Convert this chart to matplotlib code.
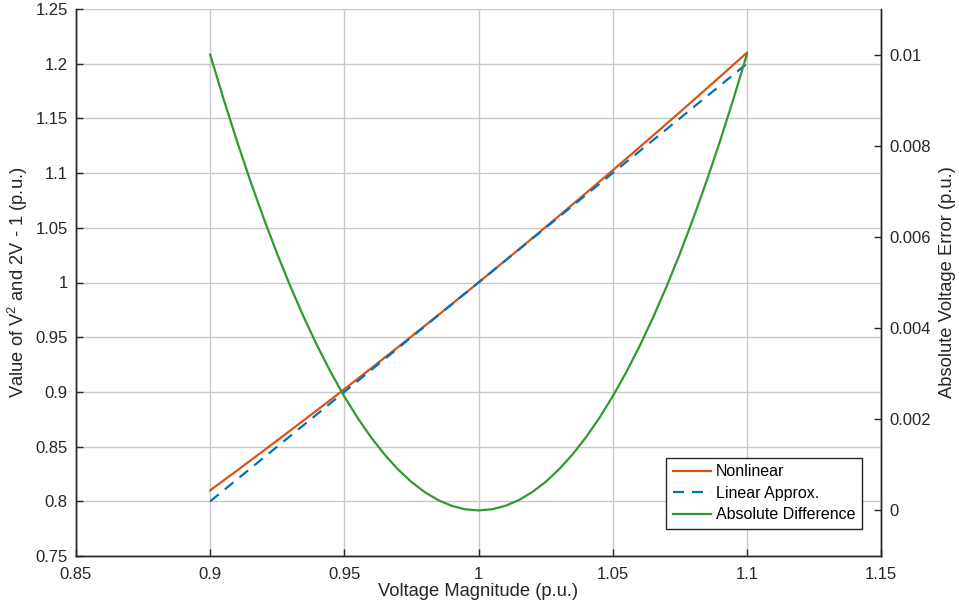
import numpy as np
import matplotlib.pyplot as plt

plt.rcParams['font.family'] = ['Liberation Sans', 'DejaVu Sans']
plt.rcParams['mathtext.fontset'] = 'custom'
plt.rcParams['mathtext.rm'] = 'Liberation Sans'
plt.rcParams['mathtext.it'] = 'Liberation Sans'

# ── data ──
voltage = [0.90, 0.91, 0.92, 0.93, 0.94, 0.95, 0.96, 0.97, 0.98, 0.99, 1.00,
           1.01, 1.02, 1.03, 1.04, 1.05, 1.06, 1.07, 1.08, 1.09, 1.10]
nonlinear = [0.8100, 0.8281, 0.8464, 0.8649, 0.8836, 0.9025, 0.9216, 0.9409,
             0.9604, 0.9801, 1.0000, 1.0201, 1.0404, 1.0609, 1.0816, 1.1025,
             1.1236, 1.1449, 1.1664, 1.1881, 1.2100]
linear = [0.80, 0.82, 0.84, 0.86, 0.88, 0.90, 0.92, 0.94, 0.96, 0.98, 1.00,
          1.02, 1.04, 1.06, 1.08, 1.10, 1.12, 1.14, 1.16, 1.18, 1.20]

# green curve needs a finer grid to look smooth
voltage_fine = [0.900, 0.905, 0.910, 0.915, 0.920, 0.925, 0.930, 0.935, 0.940,
                0.945, 0.950, 0.955, 0.960, 0.965, 0.970, 0.975, 0.980, 0.985,
                0.990, 0.995, 1.000, 1.005, 1.010, 1.015, 1.020, 1.025, 1.030,
                1.035, 1.040, 1.045, 1.050, 1.055, 1.060, 1.065, 1.070, 1.075,
                1.080, 1.085, 1.090, 1.095, 1.100]
abs_diff = [0.010000, 0.009025, 0.008100, 0.007225, 0.006400, 0.005625,
            0.004900, 0.004225, 0.003600, 0.003025, 0.002500, 0.002025,
            0.001600, 0.001225, 0.000900, 0.000625, 0.000400, 0.000225,
            0.000100, 0.000025, 0.000000, 0.000025, 0.000100, 0.000225,
            0.000400, 0.000625, 0.000900, 0.001225, 0.001600, 0.002025,
            0.002500, 0.003025, 0.003600, 0.004225, 0.004900, 0.005625,
            0.006400, 0.007225, 0.008100, 0.009025, 0.010000]

x_ticks = [0.85, 0.9, 0.95, 1, 1.05, 1.1, 1.15]
x_labels = ['0.85', '0.9', '0.95', '1', '1.05', '1.1', '1.15']
y_ticks = [0.75, 0.8, 0.85, 0.9, 0.95, 1, 1.05, 1.1, 1.15, 1.2, 1.25]
y_labels = ['0.75', '0.8', '0.85', '0.9', '0.95', '1', '1.05', '1.1', '1.15', '1.2', '1.25']
y2_ticks = [0, 0.002, 0.004, 0.006, 0.008, 0.01]
y2_labels = ['0', '0.002', '0.004', '0.006', '0.008', '0.01']

c_nonlin = '#D95319'
c_lin = '#0072BD'
c_diff = '#2F9A2F'
ink = '#262626'

fig = plt.figure(figsize=(9.59, 6.15), dpi=100)
ax = fig.add_axes([76 / 959, 59 / 615, 805 / 959, 547 / 615])
ax2 = ax.twinx()

h1, = ax.plot(voltage, nonlinear, color=c_nonlin, lw=1.6, label='Nonlinear')
h2, = ax.plot(voltage, linear, color=c_lin, lw=1.6, ls=(0, (5, 3.5)), label='Linear Approx.')
h3, = ax2.plot(voltage_fine, abs_diff, color=c_diff, lw=1.6, label='Absolute Difference')

ax.set_xlim(0.85, 1.15)
ax.set_ylim(0.75, 1.25)
ax2.set_ylim(-0.001, 0.011)
ax.set_xticks(x_ticks, x_labels)
ax.set_yticks(y_ticks, y_labels)
ax2.set_yticks(y2_ticks, y2_labels)

ax.grid(True, color='#c8c8c8', lw=1)
ax.set_axisbelow(True)

for a in (ax, ax2):
    a.spines['top'].set_visible(False)
    for s in ('left', 'right', 'bottom'):
        a.spines[s].set_color(ink)
        a.spines[s].set_linewidth(1)
    a.tick_params(direction='in', length=5, width=1, labelsize=12, colors=ink, labelcolor=ink)
ax.tick_params(axis='x', pad=8)
ax.tick_params(axis='y', pad=6)
ax2.tick_params(axis='y', pad=6)

ax.set_xlabel('Voltage Magnitude (p.u.)', fontsize=13.2, labelpad=1, color=ink)
ax.set_ylabel('Value of V$^{2}$ and 2V - 1 (p.u.)', fontsize=13.2, labelpad=4, color=ink)
ax2.set_ylabel('Absolute Voltage Error (p.u.)', fontsize=13.2, labelpad=6, color=ink)

leg = ax2.legend(handles=[h1, h2, h3], loc='lower right', bbox_to_anchor=(0.976, 0.05),
                 fontsize=11.5, fancybox=False, framealpha=1, edgecolor=ink,
                 handlelength=2.4, handletextpad=0.3, borderpad=0.4, labelspacing=0.4,
                 borderaxespad=0)
leg.get_frame().set_linewidth(1)

fig.savefig('out.png', dpi=100)
